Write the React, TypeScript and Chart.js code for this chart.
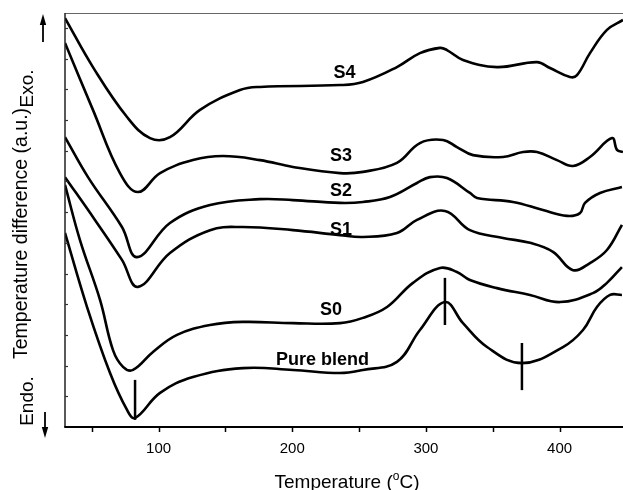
import { useEffect, useRef } from 'react';
import { Chart, registerables } from 'chart.js';

Chart.register(...registerables);

// ---- Data (temperature in °C, signal in arbitrary units) ----
const s4T = [30, 50.9, 76.4, 93.6, 108.5, 131.0, 160.9, 175.9, 235.7, 252.9, 278.3, 295.5, 310.5, 315.7, 327.7, 353.1, 383.1, 392.8, 407.7, 413.0, 422.7, 435.4, 447.4];
const s4V = [13.19, 11.61, 10.0, 9.32, 9.35, 10.23, 10.87, 10.97, 11.03, 11.13, 11.61, 12.06, 12.23, 12.16, 11.84, 11.61, 11.77, 11.58, 11.29, 11.35, 12.06, 12.81, 13.13];

const s3T = [30, 50.9, 71.1, 84.6, 101.1, 125.7, 148.2, 175.9, 200.5, 235.7, 252.9, 278.3, 295.5, 312.7, 323.2, 335.2, 357.6, 372.6, 383.1, 398.0, 410.0, 422.7, 439.2, 442.9, 447.4];
const s3V = [12.39, 10.23, 8.19, 7.58, 8.19, 8.61, 8.74, 8.61, 8.39, 8.19, 8.23, 8.52, 9.16, 9.26, 9.03, 8.77, 8.71, 8.87, 8.87, 8.61, 8.42, 8.71, 9.32, 8.94, 8.87];

const s2T = [30, 47.2, 72.6, 83.9, 108.5, 138.5, 175.9, 200.5, 235.7, 252.9, 273.1, 293.3, 303.0, 315.7, 332.9, 338.2, 365.1, 387.5, 405.5, 415.2, 419.0, 430.2, 446.6];
const s2V = [9.35, 8.06, 6.45, 5.48, 6.58, 7.16, 7.35, 7.32, 7.23, 7.26, 7.42, 7.87, 8.06, 8.03, 7.55, 7.39, 7.26, 7.0, 6.81, 6.90, 7.23, 7.55, 7.74];

const s1T = [30, 52.4, 72.6, 84.6, 108.5, 138.5, 163.1, 200.5, 235.7, 252.9, 278.3, 293.3, 314.2, 332.9, 357.6, 377.8, 395.0, 410.0, 422.7, 435.4, 446.6];
const s1V = [8.06, 6.68, 5.39, 4.52, 5.61, 6.35, 6.45, 6.35, 6.19, 6.13, 6.26, 6.68, 6.97, 6.35, 6.10, 5.94, 5.65, 5.06, 5.29, 5.71, 6.52];

const s0T = [30, 41.2, 56.2, 65.9, 73.4, 80.9, 95.8, 113.8, 138.5, 163.1, 200.5, 235.7, 252.9, 270.9, 290.3, 310.5, 323.2, 332.9, 353.1, 377.8, 400.3, 424.9, 435.4, 446.6];
const s0V = [7.81, 6.03, 4.10, 2.48, 1.94, 1.84, 2.42, 2.97, 3.29, 3.39, 3.35, 3.35, 3.52, 3.87, 4.65, 5.13, 5.0, 4.74, 4.48, 4.26, 4.03, 4.32, 4.65, 5.16];

const pureT = [30, 46.5, 63.7, 76.4, 82.4, 101.1, 125.7, 163.1, 200.5, 235.7, 252.9, 278.3, 295.5, 314.2, 327.7, 345.7, 371.8, 402.5, 417.5, 427.9, 437.7, 446.6];
const pureV = [6.26, 3.87, 1.74, 0.55, 0.29, 1.10, 1.61, 1.90, 1.84, 1.74, 1.84, 2.10, 3.13, 4.03, 3.35, 2.58, 2.06, 2.58, 3.13, 3.87, 4.26, 4.26];

// vertical peak markers
const markerT = [82.4, 314.2, 371.8];
const markerLow = [0.23, 3.29, 1.19];
const markerHigh = [1.52, 4.81, 2.71];

const seriesNames = ['S4', 'S3', 'S2', 'S1', 'S0', 'Pure blend'];
const labelT = [239.1, 236.5, 236.5, 236.5, 229.0, 222.6];
const labelV = [11.26, 8.58, 7.44, 6.19, 3.61, 2.0];

const xMajorTicks = [100, 200, 300, 400];
const xMinorTicks = [50, 150, 250, 350];
const xMin = 30;
const xMax = 447.4;
const yMin = 0;
const yMax = 13.355;
const yTickStep = 0.99;
const yTickCount = 13;

const FONT = '"Liberation Sans", Arial, Helvetica, sans-serif';

function pts(t: number[], v: number[]) {
  return t.map((x, i) => ({ x, y: v[i] }));
}

const curveStyle = {
  borderColor: '#000',
  borderWidth: 2.6,
  pointRadius: 0,
  fill: false,
  tension: 0.4,
  borderJoinStyle: 'round' as const,
};

const overlay = {
  id: 'overlay',
  afterDraw(chart: any) {
    const { ctx, chartArea: a } = chart;
    const xs = chart.scales.x;
    const ys = chart.scales.y;
    const seg = (x1: number, y1: number, x2: number, y2: number) => {
      ctx.beginPath();
      ctx.moveTo(x1, y1);
      ctx.lineTo(x2, y2);
      ctx.stroke();
    };
    ctx.save();
    ctx.lineCap = 'butt';
    // frame: top (thin grey), left, bottom
    ctx.strokeStyle = '#666';
    ctx.lineWidth = 1;
    seg(a.left, a.top + 0.5, a.right, a.top + 0.5);
    ctx.strokeStyle = '#222';
    ctx.lineWidth = 1.5;
    seg(a.left, a.top, a.left, a.bottom);
    ctx.strokeStyle = '#000';
    ctx.lineWidth = 2;
    seg(a.left - 0.75, a.bottom, a.right, a.bottom);

    // x ticks (outward)
    ctx.lineWidth = 1.5;
    [...xMajorTicks, ...xMinorTicks].forEach((v) => {
      const px = Math.round(xs.getPixelForValue(v)) + 0.5;
      seg(px, a.bottom, px, a.bottom + 5);
    });
    // y ticks (inward)
    ctx.lineWidth = 1.2;
    ctx.strokeStyle = '#333';
    for (let k = 1; k <= yTickCount; k++) {
      const py = Math.round(ys.getPixelForValue(k * yTickStep)) + 0.5;
      seg(a.left, py, a.left + 3, py);
    }

    // x tick labels
    ctx.fillStyle = '#000';
    ctx.font = `15px ${FONT}`;
    ctx.textAlign = 'center';
    ctx.textBaseline = 'alphabetic';
    xMajorTicks.forEach((v) => {
      ctx.fillText(String(v), xs.getPixelForValue(v), 453);
    });

    // x title with superscript o
    const p1 = 'Temperature (';
    const p3 = 'C)';
    ctx.font = `19px ${FONT}`;
    const w1 = ctx.measureText(p1).width;
    const w3 = ctx.measureText(p3).width;
    ctx.font = `12px ${FONT}`;
    const w2 = ctx.measureText('o').width;
    const total = w1 + w2 + w3;
    let sx = 347 - total / 2;
    ctx.textAlign = 'left';
    ctx.font = `19px ${FONT}`;
    ctx.fillText(p1, sx, 488);
    sx += w1;
    ctx.font = `12px ${FONT}`;
    ctx.fillText('o', sx, 480);
    sx += w2;
    ctx.font = `19px ${FONT}`;
    ctx.fillText(p3, sx, 488);

    // rotated y-axis texts
    const rot = (text: string, x: number, y: number, font: string) => {
      ctx.save();
      ctx.translate(x, y);
      ctx.rotate(-Math.PI / 2);
      ctx.font = font;
      ctx.textAlign = 'center';
      ctx.textBaseline = 'alphabetic';
      ctx.fillText(text, 0, 0);
      ctx.restore();
    };
    rot('Temperature difference (a.u.)', 27, 233.5, `19.5px ${FONT}`);
    rot('Exo.', 33, 88.5, `19px ${FONT}`);
    rot('Endo.', 33, 401, `19px ${FONT}`);

    // arrows
    ctx.strokeStyle = '#000';
    ctx.lineWidth = 1.8;
    seg(43, 42, 43, 22);
    ctx.beginPath();
    ctx.moveTo(43, 14);
    ctx.lineTo(39.8, 25);
    ctx.lineTo(46.2, 25);
    ctx.closePath();
    ctx.fill();
    seg(45, 412, 45, 429);
    ctx.beginPath();
    ctx.moveTo(45, 438);
    ctx.lineTo(41.8, 427);
    ctx.lineTo(48.2, 427);
    ctx.closePath();
    ctx.fill();

    // series labels
    ctx.font = `bold 18px ${FONT}`;
    ctx.textAlign = 'center';
    ctx.textBaseline = 'alphabetic';
    seriesNames.forEach((name, i) => {
      ctx.fillText(name, xs.getPixelForValue(labelT[i]), ys.getPixelForValue(labelV[i]));
    });
    ctx.restore();
  },
};

export default function App() {
  const ref = useRef<HTMLCanvasElement>(null);
  useEffect(() => {
    if (!ref.current) return;
    const curves = [
      pts(s4T, s4V),
      pts(s3T, s3V),
      pts(s2T, s2V),
      pts(s1T, s1V),
      pts(s0T, s0V),
      pts(pureT, pureV),
    ];
    const datasets: any[] = curves.map((data, i) => ({
      label: seriesNames[i],
      data,
      ...curveStyle,
    }));
    markerT.forEach((t, i) => {
      datasets.push({
        label: `marker${i}`,
        data: [
          { x: t, y: markerLow[i] },
          { x: t, y: markerHigh[i] },
        ],
        borderColor: '#000',
        borderWidth: 2.5,
        pointRadius: 0,
        tension: 0,
        fill: false,
      });
    });
    const chart = new Chart(ref.current, {
      type: 'line',
      data: { datasets },
      options: {
        responsive: false,
        animation: false,
        events: [],
        layout: { padding: { left: 65, top: 13, right: 0, bottom: 63 } },
        plugins: { legend: { display: false }, tooltip: { enabled: false } },
        scales: {
          x: { type: 'linear', min: xMin, max: xMax, display: false },
          y: { type: 'linear', min: yMin, max: yMax, display: false },
        },
      },
      plugins: [overlay],
    } as any);
    return () => chart.destroy();
  }, []);
  return (
    <div style={{ position: 'fixed', left: 0, top: 0, width: 623, height: 490, background: '#fff' }}>
      <canvas ref={ref} width={623} height={490} style={{ display: 'block' }} />
    </div>
  );
}
